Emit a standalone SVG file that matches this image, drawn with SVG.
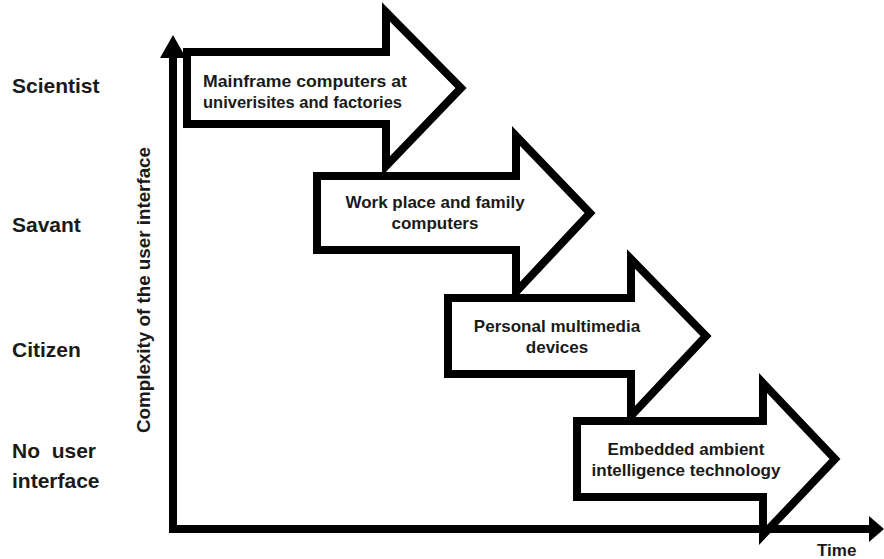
<svg xmlns="http://www.w3.org/2000/svg" width="884" height="559" viewBox="0 0 884 559">
<style>
.arrow{fill:#fff;stroke:#000;stroke-width:8;stroke-linejoin:miter}
.t{font-family:"Liberation Sans",Arial,sans-serif;font-weight:bold;fill:#1a1a1a}
.a{font-size:17px;text-anchor:middle}
.lab{font-size:21px}
.axis{stroke:#000;stroke-width:8;fill:none}
</style>
<rect width="884" height="559" fill="#fff"/>
<g id="node-mainframe">
<path class="arrow" d="M187,52 L386,52 L386,12 L461,88 L386,166 L386,124 L187,124 Z"/>
<text class="t" x="203" y="87" font-size="17" textLength="204" lengthAdjust="spacingAndGlyphs">Mainframe computers  at</text>
<text class="t" x="203" y="108" font-size="17" textLength="199" lengthAdjust="spacingAndGlyphs">univerisites and factories</text>
</g>
<g id="node-workplace">
<path class="arrow" d="M317,176 L516,176 L516,136 L590,213 L516,292 L516,250 L317,250 Z"/>
<text class="t a" x="435" y="208">Work place and family</text>
<text class="t a" x="435" y="229">computers</text>
</g>
<g id="node-personal">
<path class="arrow" d="M448,298 L631,298 L631,259 L706,336 L631,416 L631,374 L448,374 Z"/>
<text class="t a" x="557" y="332">Personal multimedia</text>
<text class="t a" x="557" y="353">devices</text>
</g>
<g id="node-embedded">
<path class="arrow" d="M577,421 L763,421 L763,383 L835,459 L763,535 L763,497 L577,497 Z"/>
<text class="t a" x="686" y="455">Embedded ambient</text>
<text class="t a" x="686" y="476">intelligence technology</text>
</g>
<g id="connectors">
<line class="axis" x1="173" y1="533" x2="173" y2="56"/>
<polygon points="160,58 173,35 186,58" fill="#000"/>
<line class="axis" x1="169" y1="529" x2="871" y2="529"/>
<polygon points="869,516 884,529 869,542" fill="#000"/>
</g>
<g id="labels">
<text class="t lab" x="12" y="93">Scientist</text>
<text class="t lab" x="12" y="232">Savant</text>
<text class="t lab" x="12" y="357">Citizen</text>
<text class="t lab" x="12" y="458" xml:space="preserve">No  user</text>
<text class="t lab" x="12" y="488">interface</text>
<text class="t" x="0" y="0" font-size="18" text-anchor="middle" textLength="286" lengthAdjust="spacingAndGlyphs" transform="translate(150,290) rotate(-90)">Complexity of the user interface</text>
<text class="t" x="817" y="556" font-size="17">Time</text>
</g>
</svg>
